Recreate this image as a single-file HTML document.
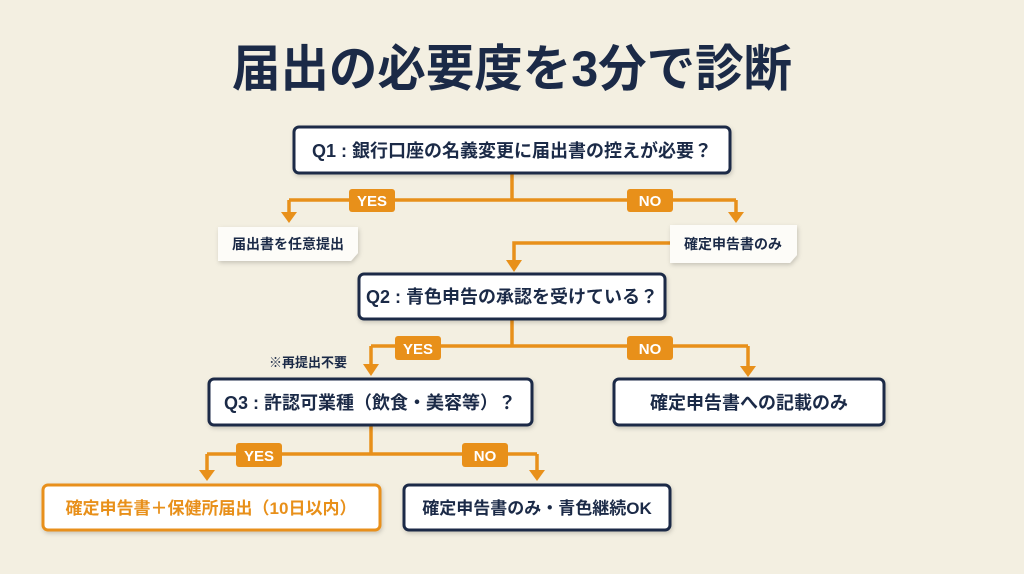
<!DOCTYPE html>
<html><head><meta charset="utf-8"><style>
html,body{margin:0;padding:0;background:#f3efe1;}
svg{display:block}
text{font-family:"Liberation Sans","Noto Sans CJK JP",sans-serif;font-weight:bold}
</style></head><body>
<svg width="1024" height="574" viewBox="0 0 1024 574" xmlns="http://www.w3.org/2000/svg">
<defs>
<filter id="sh" x="-10%" y="-20%" width="120%" height="150%"><feDropShadow dx="1" dy="2" stdDeviation="2" flood-color="#000" flood-opacity="0.18"/></filter>
</defs>
<rect width="1024" height="574" fill="#f3efe1"/>
<text x="512" y="86" font-size="50" fill="#1b2a47" text-anchor="middle" textLength="560" lengthAdjust="spacingAndGlyphs">届出の必要度を3分で診断</text>

<g stroke="#e8901a" stroke-width="3.5" fill="none">
<path d="M512 173 V200 M289 200 H736 M289 200 V214 M736 200 V214"/>
<path d="M670 243 H514 V262"/>
<path d="M512 319 V346 M371 346 H748 M371 346 V366 M748 346 V368"/>
<path d="M371 425 V454 M207 454 H537 M207 454 V472 M537 454 V472"/>
</g>
<g fill="#e8901a">
<polygon points="281,212 297,212 289,223"/>
<polygon points="728,212 744,212 736,223"/>
<polygon points="506,260 522,260 514,272"/>
<polygon points="363,364 379,364 371,376"/>
<polygon points="740,366 756,366 748,377"/>
<polygon points="199,470 215,470 207,481"/>
<polygon points="529,470 545,470 537,481"/>
<rect x="349" y="189" width="46" height="23" rx="3"/>
<rect x="627" y="189" width="46" height="23" rx="3"/>
<rect x="395" y="336" width="46" height="24" rx="3"/>
<rect x="627" y="336" width="46" height="24" rx="3"/>
<rect x="236" y="443" width="46" height="24" rx="3"/>
<rect x="462" y="443" width="46" height="24" rx="3"/>
</g>
<g fill="#fff" font-size="15" text-anchor="middle">
<text x="372" y="206">YES</text><text x="650" y="206">NO</text>
<text x="418" y="354">YES</text><text x="650" y="354">NO</text>
<text x="259" y="461">YES</text><text x="485" y="461">NO</text>
</g>

<g filter="url(#sh)" fill="#fff" stroke="#1b2a47" stroke-width="3">
<rect x="294" y="127" width="436" height="46" rx="5"/>
<rect x="359" y="274" width="306" height="45" rx="5"/>
<rect x="209" y="379" width="323" height="46" rx="5"/>
<rect x="614" y="379" width="270" height="46" rx="5"/>
<rect x="404" y="485" width="266" height="45" rx="5"/>
<rect x="43" y="485" width="337" height="45" rx="5" stroke="#e8901a"/>
</g>
<g filter="url(#sh)" fill="#fdfcf8">
<polygon points="218,227 358,227 358,253 351,261 218,261"/>
<polygon points="670,225 797,225 797,255 790,263 670,263"/>
</g>

<g fill="#1b2a47" text-anchor="middle">
<text x="512" y="157" font-size="18">Q1 : 銀行口座の名義変更に届出書の控えが必要？</text>
<text x="288" y="249" font-size="14">届出書を任意提出</text>
<text x="733" y="249" font-size="14">確定申告書のみ</text>
<text x="512" y="303" font-size="18">Q2 : 青色申告の承認を受けている？</text>
<text x="308" y="367" font-size="13">※再提出不要</text>
<text x="370" y="409" font-size="18">Q3 : 許認可業種（飲食・美容等）？</text>
<text x="749" y="409" font-size="18">確定申告書への記載のみ</text>
<text x="537" y="514" font-size="17">確定申告書のみ・青色継続OK</text>
<text x="211" y="514" font-size="17" fill="#e8901a">確定申告書＋保健所届出（10日以内）</text>
</g>
</svg>
</body></html>
